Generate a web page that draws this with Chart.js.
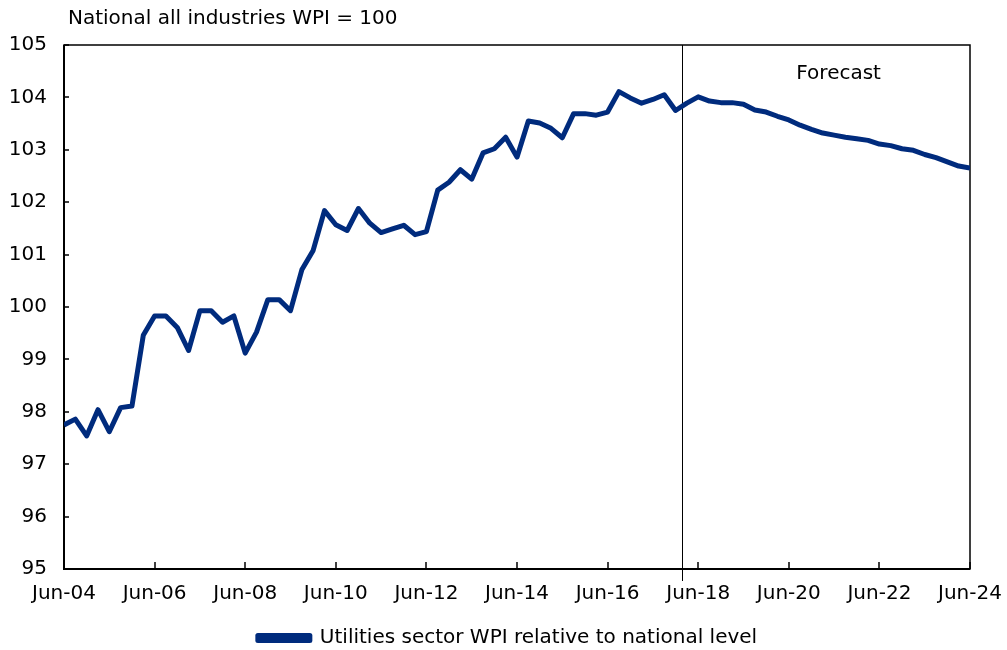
<!DOCTYPE html>
<html lang="en">
<head>
  <meta charset="UTF-8">
  <title>Utilities sector WPI relative to national level</title>
  <style>
    * { margin: 0; padding: 0; box-sizing: border-box; }
    body { background: #fff; width: 1007px; height: 650px; overflow: hidden; }
    #wrap { width: 1007px; height: 650px; position: relative; }
  </style>
</head>
<body>
  <div id="wrap"><canvas id="chart"></canvas></div>

  <script src="https://cdn.jsdelivr.net/npm/chart.js"></script>
  <script>
    // quarterly, Jun-04 .. Jun-24 (index 0..80)
    const tickLabels = ['Jun-04', 'Jun-06', 'Jun-08', 'Jun-10', 'Jun-12', 'Jun-14',
                        'Jun-16', 'Jun-18', 'Jun-20', 'Jun-22', 'Jun-24'];
    const utilities = [
      97.75, 97.86, 97.54, 98.04, 97.62, 98.08, 98.11, 99.46, 99.83, 99.83,
      99.61, 99.17, 99.93, 99.93, 99.71, 99.83, 99.12, 99.52, 100.14, 100.14,
      99.93, 100.71, 101.08, 101.84, 101.57, 101.46, 101.88, 101.60, 101.42, 101.49,
      101.56, 101.38, 101.44, 102.23, 102.38, 102.62, 102.44, 102.94, 103.02, 103.24,
      102.86, 103.55, 103.51, 103.41, 103.23, 103.69, 103.69, 103.66, 103.72, 104.11,
      103.99, 103.89, 103.96, 104.05, 103.75, 103.89, 104.01, 103.93, 103.90, 103.90,
      103.87, 103.76, 103.72, 103.64, 103.57, 103.47, 103.39, 103.32, 103.28, 103.24,
      103.21, 103.18, 103.11, 103.08, 103.02, 102.99, 102.91, 102.85, 102.77, 102.69,
      102.65
    ];
    const forecastStart = 54.6;   // between Dec-17 and Mar-18
    const yMin = 95, yMax = 105;

    const FONT = '"DejaVu Sans", Verdana, sans-serif';
    const LINE = '#002b7d';

    // box, inward tick marks, forecast divider and labels
    const decorations = {
      id: 'decorations',
      beforeDatasetsDraw(chart) {
        const { ctx, chartArea: a, scales: { x, y } } = chart;
        ctx.save();
        ctx.strokeStyle = '#000';
        ctx.lineWidth = 1.5;
        ctx.strokeRect(a.left, a.top, a.right - a.left, a.bottom - a.top);
        // heavier left and bottom axes
        ctx.lineWidth = 2;
        ctx.beginPath();
        ctx.moveTo(a.left, a.top);
        ctx.lineTo(a.left, a.bottom);
        ctx.lineTo(a.right, a.bottom);
        ctx.stroke();

        ctx.lineWidth = 1.5;
        ctx.beginPath();
        y.ticks.forEach((t, i) => {
          const py = Math.round(y.getPixelForTick(i));
          ctx.moveTo(a.left, py);
          ctx.lineTo(a.left + 5, py);
        });
        x.ticks.forEach((t, i) => {
          const px = Math.round(x.getPixelForTick(i));
          ctx.moveTo(px, a.bottom);
          ctx.lineTo(px, a.bottom - 7);
        });
        ctx.stroke();

        ctx.lineWidth = 1;
        ctx.beginPath();
        const fx = Math.round(x.getPixelForValue(forecastStart)) + 0.5;
        ctx.moveTo(fx, a.top);
        ctx.lineTo(fx, a.bottom + 12);
        ctx.stroke();

        ctx.fillStyle = '#000';
        ctx.font = '20px ' + FONT;
        ctx.textAlign = 'center';
        ctx.textBaseline = 'middle';
        ctx.fillText('Forecast', x.getPixelForValue(68.4), a.top + 29);

        ctx.textAlign = 'left';
        ctx.fillText('National all industries WPI = 100', a.left + 4, 19);
        ctx.restore();
      }
    };

    new Chart(document.getElementById('chart'), {
      type: 'line',
      data: {
        datasets: [{
          label: 'Utilities sector WPI relative to national level',
          data: utilities.map((v, i) => ({ x: i, y: v })),
          borderColor: LINE,
          backgroundColor: LINE,
          borderWidth: 5,
          borderJoinStyle: 'round',
          borderCapStyle: 'butt',
          pointRadius: 0,
          tension: 0,
          fill: false
        }]
      },
      options: {
        responsive: true,
        maintainAspectRatio: false,
        animation: false,
        layout: { padding: { top: 45, right: 0, left: 8, bottom: -8 } },
        scales: {
          x: {
            type: 'linear',
            min: 0,
            max: 80,
            grid: { display: false, drawTicks: false },
            border: { display: false },
            afterFit(scale) {
              scale.height = 59;
              scale.paddingLeft = 0;
              scale.paddingRight = 37;
            },
            ticks: {
              stepSize: 8,
              autoSkip: false,
              maxRotation: 0,
              padding: 13,
              color: '#000',
              font: { family: FONT, size: 20 },
              callback: (v) => tickLabels[v / 8]
            }
          },
          y: {
            min: yMin,
            max: yMax,
            grid: { display: false, drawTicks: false },
            border: { display: false },
            afterFit(scale) { scale.width = 56; },
            ticks: {
              stepSize: 1,
              padding: 17,
              color: '#000',
              font: { family: FONT, size: 20 }
            }
          }
        },
        plugins: {
          legend: {
            position: 'bottom',
            labels: {
              boxWidth: 52,
              boxHeight: 5,
              padding: 0,
              color: '#000',
              font: { family: FONT, size: 20 }
            }
          },
          tooltip: { enabled: false }
        }
      },
      plugins: [decorations]
    });
  </script>
</body>
</html>
